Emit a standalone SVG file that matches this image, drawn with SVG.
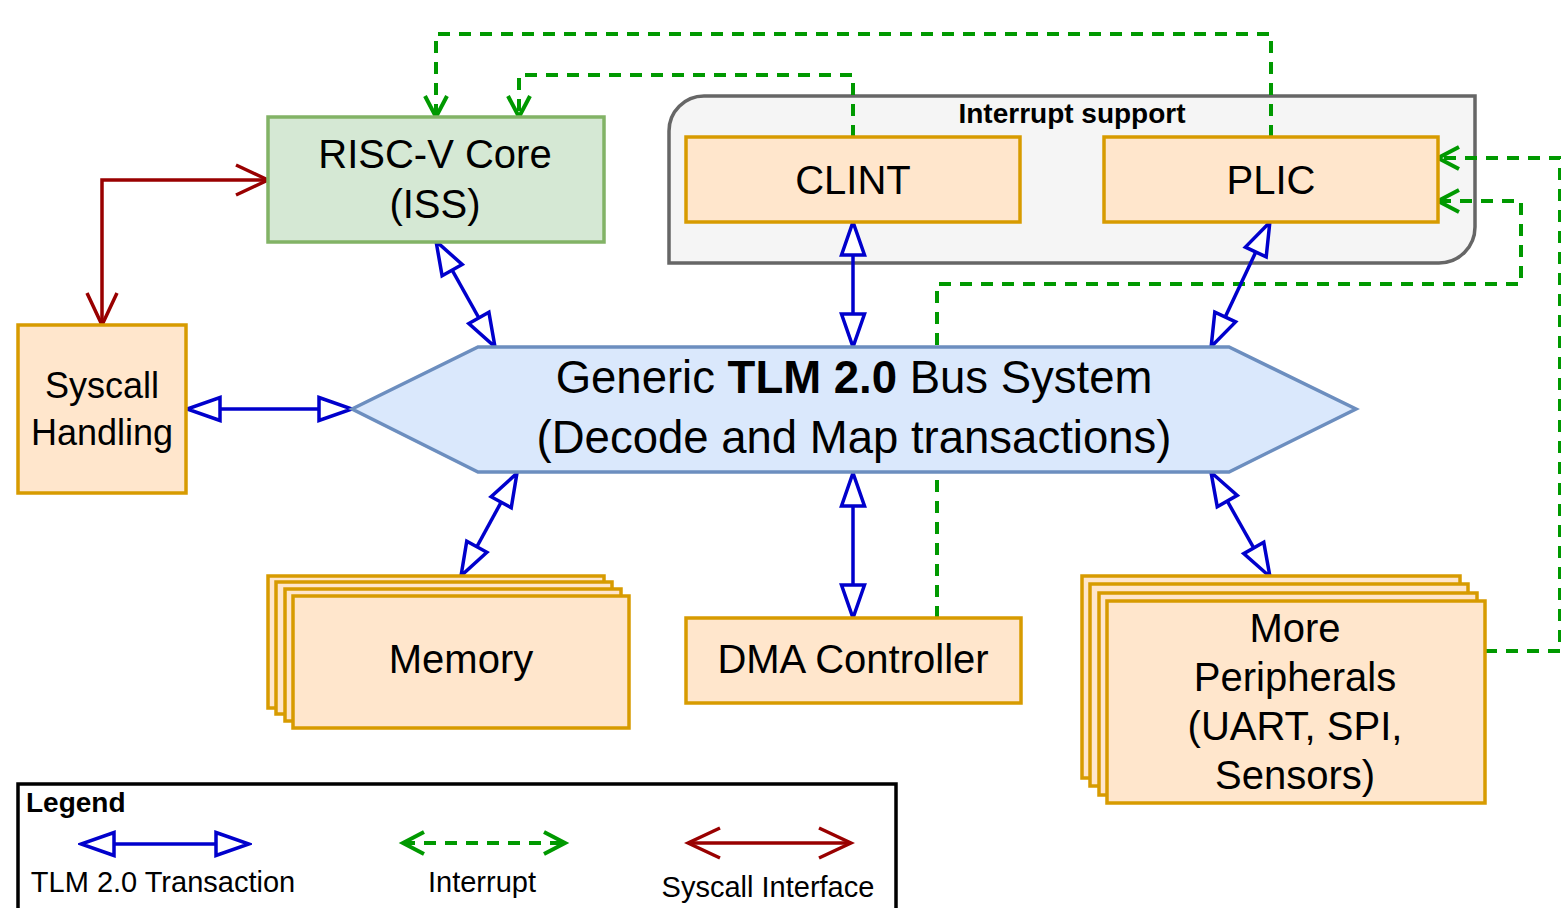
<svg xmlns="http://www.w3.org/2000/svg" width="1561" height="908" viewBox="0 0 1561 908">
<style>
text{font-family:"Liberation Sans",Arial,Helvetica,sans-serif;fill:#000}
.big{font-size:40px;text-anchor:middle}
.orange{fill:#ffe6cc;stroke:#d79b00;stroke-width:3.5}
.tlm{fill:none;stroke:#0000cc;stroke-width:3.5;marker-start:url(#blk);marker-end:url(#blk)}
.irq{fill:none;stroke:#009900;stroke-width:4;stroke-dasharray:12 9;marker-end:url(#opg)}
.sys{fill:none;stroke:#990000;stroke-width:3.5;marker-start:url(#opr);marker-end:url(#opr)}
.leg{font-size:29px;text-anchor:middle}
</style>
<defs>
<marker id="blk" markerUnits="userSpaceOnUse" viewBox="-4 -16 40 32" markerWidth="40" markerHeight="32" refX="31" refY="0" orient="auto-start-reverse">
<path d="M0,-11.5 L33,0 L0,11.5 Z" fill="#ffffff" stroke="#0000cc" stroke-width="3.5"/>
</marker>
<marker id="opg" markerUnits="userSpaceOnUse" viewBox="-4 -15 30 30" markerWidth="30" markerHeight="30" refX="21" refY="0" orient="auto-start-reverse">
<path d="M0,-11 L21,0 L0,11" fill="none" stroke="#009900" stroke-width="4"/>
</marker>
<marker id="opr" markerUnits="userSpaceOnUse" viewBox="-4 -19 40 38" markerWidth="40" markerHeight="38" refX="32" refY="0" orient="auto-start-reverse">
<path d="M0,-15 L32,0 L0,15" fill="none" stroke="#990000" stroke-width="3.5"/>
</marker>
</defs>
<rect width="1561" height="908" fill="#ffffff"/>

<g id="interrupt-support">
<path d="M669,131 A35,35 0 0 1 704,96 H1475 V227 A36,36 0 0 1 1439,263 H669 Z" fill="#f5f5f5" stroke="#666666" stroke-width="3.5"/>
<text x="1072" y="123" font-size="28" font-weight="bold" text-anchor="middle">Interrupt support</text>
</g>

<g id="connectors">
<path class="irq" d="M1271,137 V34 H436 V117"/>
<path class="irq" d="M853,137 V75 H519 V117"/>
<path class="irq" d="M937,618 V284 H1521 V201 H1438"/>
<path class="irq" d="M1485,651 H1560 V158 H1438"/>
<path class="sys" d="M268,180 H102 V325"/>
<path class="tlm" d="M437,243 L494,345"/>
<path class="tlm" d="M853,224 L853,345"/>
<path class="tlm" d="M1269,224 L1212,345"/>
<path class="tlm" d="M189,409 L350,409"/>
<path class="tlm" d="M516,475 L462,574"/>
<path class="tlm" d="M853,475 L853,616"/>
<path class="tlm" d="M1212,474 L1269,575"/>
</g>

<g id="risc-v-core">
<rect x="268" y="117" width="336" height="125" fill="#d5e8d4" stroke="#82b366" stroke-width="3.5"/>
<text class="big" x="435" y="168">RISC-V Core</text>
<text class="big" x="435" y="218">(ISS)</text>
</g>

<g id="clint">
<rect class="orange" x="686" y="137" width="334" height="85"/>
<text class="big" x="853" y="194">CLINT</text>
</g>

<g id="plic">
<rect class="orange" x="1104" y="137" width="334" height="85"/>
<text class="big" x="1271" y="194">PLIC</text>
</g>

<g id="syscall-handling">
<rect class="orange" x="18" y="325" width="168" height="168"/>
<text x="102" y="398" font-size="36" text-anchor="middle">Syscall</text>
<text x="102" y="445" font-size="36" text-anchor="middle">Handling</text>
</g>

<g id="bus">
<polygon points="352,409 478,347 1229,347 1356,409 1229,472 478,472" fill="#dae8fc" stroke="#6c8ebf" stroke-width="3.5"/>
<text x="854" y="393" font-size="45.5" text-anchor="middle">Generic <tspan font-weight="bold">TLM 2.0</tspan> Bus System</text>
<text x="854" y="453" font-size="45.5" text-anchor="middle">(Decode and Map transactions)</text>
</g>

<g id="memory">
<rect class="orange" x="268" y="576" width="336" height="132"/>
<rect class="orange" x="276" y="582" width="336" height="132"/>
<rect class="orange" x="285" y="589" width="336" height="132"/>
<rect class="orange" x="293" y="596" width="336" height="132"/>
<text class="big" x="461" y="673">Memory</text>
</g>

<g id="dma-controller">
<rect class="orange" x="686" y="618" width="335" height="85"/>
<text class="big" x="853" y="673">DMA Controller</text>
</g>

<g id="more-peripherals">
<rect class="orange" x="1082" y="576" width="378" height="202"/>
<rect class="orange" x="1090" y="584" width="378" height="202"/>
<rect class="orange" x="1099" y="593" width="378" height="202"/>
<rect class="orange" x="1107" y="601" width="378" height="202"/>
<text class="big" x="1295" y="642">More</text>
<text class="big" x="1295" y="691">Peripherals</text>
<text class="big" x="1295" y="740">(UART, SPI,</text>
<text class="big" x="1295" y="789">Sensors)</text>
</g>

<g id="legend">
<rect x="18" y="784" width="878" height="150" fill="#ffffff" stroke="#000000" stroke-width="3.5"/>
<text x="26" y="812" font-size="28" font-weight="bold">Legend</text>
<path class="tlm" d="M83,844 H247"/>
<path class="irq" d="M403,843 H565" style="marker-start:url(#opg)"/>
<path class="sys" d="M688,843 H851"/>
<text class="leg" x="163" y="892">TLM 2.0 Transaction</text>
<text class="leg" x="482" y="892">Interrupt</text>
<text class="leg" x="768" y="897">Syscall Interface</text>
</g>
</svg>
